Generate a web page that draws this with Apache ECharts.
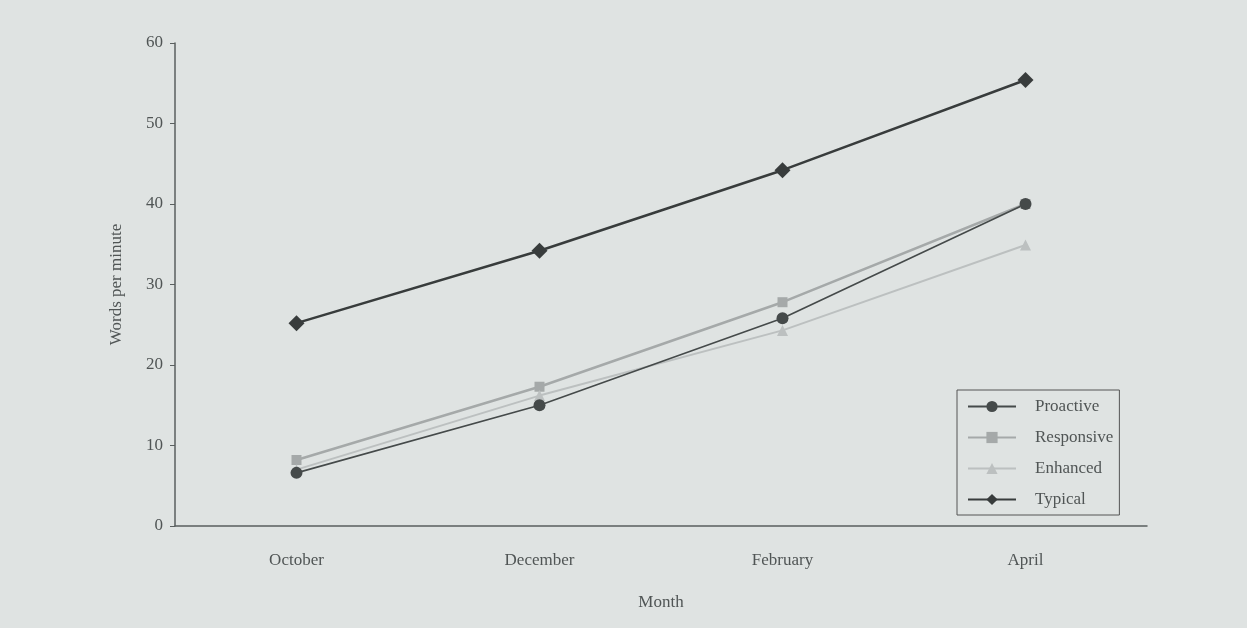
<!DOCTYPE html>
<html>
<head>
<meta charset="utf-8">
<script src="https://cdn.jsdelivr.net/npm/echarts@6/dist/echarts.min.js"></script>
<style>
html,body{margin:0;padding:0;background:#dfe3e2;}
#chart{width:1247px;height:628px;}
</style>
</head>
<body>
<div id="chart"></div>
<script>
const months = ['October', 'December', 'February', 'April'];
const proactive = [6.6, 15.0, 25.8, 40.0];
const responsive = [8.2, 17.3, 27.8, 40.0];
const enhanced = [7.0, 16.2, 24.3, 34.9];
const typical = [25.2, 34.2, 44.2, 55.4];
const yTicks = [0, 10, 20, 30, 40, 50, 60];

const font = '"Liberation Serif", "DejaVu Serif", serif';
const textColor = '#505555';
const chart = echarts.init(document.getElementById('chart'));

function mk(name, data, color, symbol, size, width) {
  return {
    name: name, type: 'line', data: data,
    symbol: symbol, symbolSize: size,
    lineStyle: {color: color, width: width},
    itemStyle: {color: color, borderWidth: 0},
    emphasis: {disabled: true}
  };
}

chart.setOption({
  backgroundColor: '#dfe3e2',
  animation: false,
  grid: {left: 175, right: 100, top: 43, bottom: 102, containLabel: false},
  legend: {
    left: 957, top: 390, orient: 'vertical',
    padding: [8, 6, 7, 10],
    borderColor: '#555', borderWidth: 1,
    itemWidth: 48, itemHeight: 14, itemGap: 14,
    textStyle: {fontFamily: font, fontSize: 17, color: textColor, padding: [0, 0, 0, 14], lineHeight: 17},
    data: ['Proactive', 'Responsive', 'Enhanced', 'Typical']
  },
  xAxis: {
    type: 'category', data: months, boundaryGap: true,
    name: 'Month', nameLocation: 'middle', nameGap: 68,
    nameTextStyle: {fontFamily: font, fontSize: 17, color: textColor},
    axisLine: {lineStyle: {color: '#5a5f5f', width: 1.5}},
    axisTick: {alignWithLabel: true, length: 6, lineStyle: {color: '#5a5f5f'}},
    axisLabel: {fontFamily: font, fontSize: 17, color: textColor, margin: 26}
  },
  yAxis: {
    type: 'value', min: 0, max: 60, interval: 10,
    name: 'Words per minute', nameLocation: 'middle', nameGap: 50, nameRotate: 90,
    nameTextStyle: {fontFamily: font, fontSize: 17, color: textColor},
    axisLine: {show: true, lineStyle: {color: '#5a5f5f', width: 1.5}},
    axisTick: {show: true, length: 5, lineStyle: {color: '#5a5f5f'}},
    splitLine: {show: false},
    axisLabel: {fontFamily: font, fontSize: 17, color: textColor, margin: 12,
      formatter: v => yTicks.includes(v) ? String(v) : ''}
  },
  series: [
    mk('Responsive', responsive, '#a5a9a9', 'rect', 10, 2.5),
    mk('Enhanced', enhanced, '#bcc0c0', 'triangle', 11, 2),
    mk('Proactive', proactive, '#454a4a', 'circle', 12, 1.6),
    mk('Typical', typical, '#383c3c', 'diamond', 16, 2.5)
  ]
});
</script>
</body>
</html>
